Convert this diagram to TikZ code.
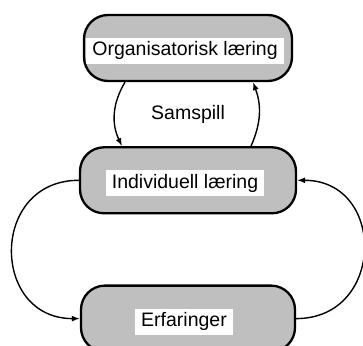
\documentclass[tikz,border=0pt]{standalone}
\usepackage{fontspec}
\setmainfont{Liberation Sans}
\usetikzlibrary{positioning,arrows.meta,calc}
\definecolor{boksgraa}{gray}{0.75}

\begin{document}
\begin{tikzpicture}[x=1pt,y=1pt,>={Latex[length=8pt,width=6pt]},
    font=\fontsize{19.5}{23}\selectfont,
    boks/.style={draw,line width=2.3pt,fill=boksgraa,rounded corners=24pt,
      minimum height=66pt,inner sep=0pt},
    etikett/.style={fill=white,inner xsep=6pt,inner ysep=4pt,
      text height=14pt,text depth=4pt},
    pil/.style={->,line width=1.4pt}]
  \useasboundingbox (0,0) rectangle (363,345);
  % the three levels
  \node[boks,minimum width=208pt] (org) at (188,297) {};
  \node[boks,minimum width=216pt,below=64pt of org] (ind) {};
  \node[boks,minimum width=214pt,below=70pt of ind] (erf) {};
  \node[etikett] (orgtekst) at ([shift={(-3pt,-3pt)}]org.center) {Organisatorisk læring};
  \node[etikett] (indtekst) at ([shift={(-3pt,-3pt)}]ind.center) {Individuell læring};
  \node[etikett] (erftekst) at ([shift={(-4pt,-3pt)}]erf.center) {Erfaringer};
  \node (samspill) at ($(org.south)!0.5!(ind.north)$) {Samspill};
  % loops between them
  \draw[pil] ([xshift=-63pt]org.south) to[bend right=28] ([xshift=-66pt]ind.north);
  \draw[pil] ([xshift=63pt]ind.north) to[bend right=22] ([xshift=65pt]org.south);
  \draw[pil] (ind.west) to[out=180,in=180,looseness=1.65] (erf.west);
  \draw[pil] (erf.east) to[out=0,in=0,looseness=1.65] (ind.east);
\end{tikzpicture}
\end{document}
